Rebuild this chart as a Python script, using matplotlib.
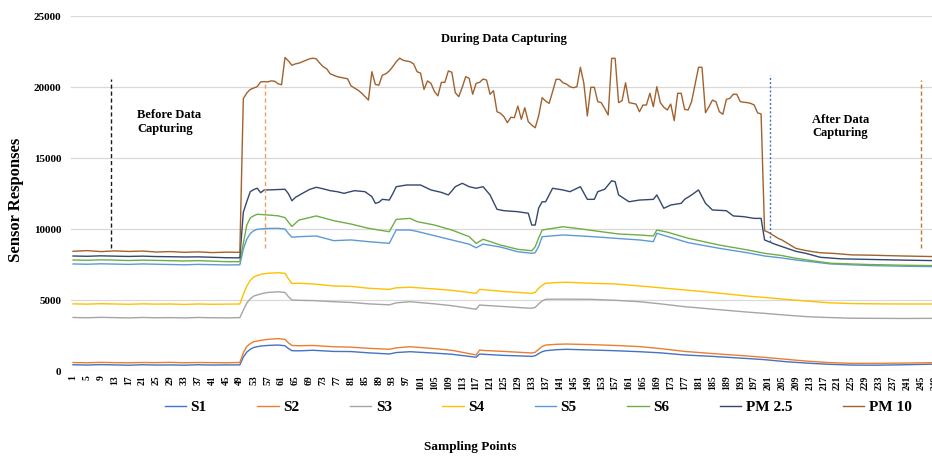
import matplotlib
matplotlib.use('Agg')
import matplotlib.pyplot as plt

plt.rcParams['font.family'] = ['Liberation Serif', 'DejaVu Serif']
plt.rcParams['font.weight'] = 'bold'

# ---------------- data ----------------
series_names = ['S1', 'S2', 'S3', 'S4', 'S5', 'S6', 'PM 2.5', 'PM 10']
colors = ['#4472C4', '#ED7D31', '#A5A5A5', '#FFC000', '#5B9BD5', '#70AD47', '#34476E', '#A0622F']

n_points = 250
tick_labels = list(range(1, n_points + 1, 4))

before_x = list(range(1, 50, 4))  # sampling points 1,5,...,49

grid_a = [50, 51, 52, 53, 55, 57, 60, 62, 63, 64, 66, 70, 76, 81, 86, 92, 94, 98, 105, 110,
          117, 118, 119, 125, 130, 133, 134, 135, 136, 137, 140, 143, 150, 157, 164, 170, 177,
          185, 195, 200, 206, 212, 218, 225, 232, 240, 250]
grid_b = [50, 51, 52, 53, 54, 57, 60, 62, 63, 64, 66, 71, 76, 81, 86, 92, 94, 98, 100, 105,
          110, 115, 117, 119, 124, 129, 133, 134, 135, 136, 142, 148, 153, 158, 164, 168, 169,
          172, 178, 187, 195, 200, 205, 209, 214, 219, 230, 240, 250]

s1_x = before_x + grid_a
s1_y = [460, 440, 470, 450, 430, 460, 440, 450, 430, 460, 440, 450, 450,
        1000, 1350, 1550, 1680, 1780, 1820, 1850, 1800, 1600, 1450,
        1440, 1480, 1400, 1390, 1300, 1220, 1320, 1380, 1280, 1200,
        990, 1220, 1200, 1120, 1080, 1050, 1100, 1250, 1380, 1450,
        1520, 1550, 1500, 1450, 1380, 1300, 1150, 1050, 900, 820,
        680, 580, 500, 440, 430, 460, 510]

s2_x = before_x + grid_a
s2_y = [620, 600, 630, 610, 600, 620, 610, 630, 600, 620, 610, 600, 620,
        1300, 1750, 1950, 2080, 2180, 2250, 2300, 2250, 2000, 1820,
        1800, 1820, 1730, 1700, 1620, 1550, 1650, 1730, 1600, 1480,
        1150, 1500, 1470, 1400, 1330, 1290, 1340, 1550, 1750, 1850,
        1900, 1920, 1880, 1820, 1740, 1600, 1400, 1250, 1080, 980,
        850, 720, 620, 560, 560, 580, 610]

s3_x = before_x + grid_a
s3_y = [3790, 3770, 3800, 3780, 3760, 3790, 3770, 3780, 3760, 3790, 3770, 3760, 3780,
        4300, 4800, 5100, 5300, 5450, 5550, 5600, 5550, 5250, 5020,
        5000, 4980, 4900, 4850, 4750, 4680, 4820, 4900, 4750, 4620,
        4370, 4670, 4650, 4560, 4480, 4440, 4500, 4750, 4950, 5070,
        5080, 5080, 5070, 5000, 4900, 4750, 4550, 4380, 4170, 4080,
        3960, 3850, 3790, 3740, 3730, 3720, 3730]

s4_x = before_x + grid_a
s4_y = [4750, 4730, 4760, 4740, 4720, 4750, 4730, 4740, 4710, 4740, 4720, 4730, 4740,
        5400, 6000, 6400, 6650, 6830, 6900, 6940, 6900, 6500, 6180,
        6200, 6150, 6010, 5980, 5850, 5770, 5880, 5920, 5800, 5700,
        5490, 5770, 5750, 5620, 5540, 5490, 5560, 5850, 6050, 6200,
        6250, 6270, 6200, 6150, 6010, 5880, 5730, 5550, 5300, 5200,
        5070, 4950, 4830, 4770, 4750, 4740, 4740]

s5_x = before_x + grid_b
s5_y = [7560, 7540, 7570, 7550, 7530, 7560, 7540, 7520, 7500, 7530, 7510, 7490, 7500,
        8600, 9300, 9700, 9900, 10000, 10060, 10070, 10020, 9700, 9440,
        9480, 9530, 9200, 9250, 9130, 9010, 9950, 9950, 9850, 9550,
        9250, 8950, 8700, 8960, 8750, 8420, 8310, 8350, 8800, 9480,
        9600, 9520, 9440, 9350, 9250, 9130, 9720, 9500, 9060, 8660,
        8350, 8120, 7980, 7840, 7700, 7560, 7450, 7400, 7370]

s6_x = before_x + grid_b
s6_y = [7840, 7820, 7850, 7830, 7800, 7830, 7810, 7790, 7770, 7790, 7760, 7720, 7720,
        9000, 10300, 10800, 10950, 11060, 11010, 10950, 10820, 10500, 10200,
        10650, 10940, 10610, 10370, 10070, 9830, 10700, 10770, 10540, 10300,
        9950, 9480, 9010, 9300, 8890, 8590, 8490, 8770, 9400, 9950,
        10180, 10000, 9830, 9670, 9600, 9530, 9950, 9800, 9370, 8890,
        8550, 8310, 8150, 7960, 7780, 7610, 7520, 7470, 7440]

pm25_x = before_x + [50, 51, 52, 53, 54, 55, 56, 58, 60, 62, 63, 64, 65, 67, 69, 71, 73, 75, 77, 79,
                     80, 82, 85, 87, 88, 89, 90, 92, 93, 94, 97, 101, 104, 107, 109, 110, 111, 113,
                     115, 117, 119, 121, 123, 125, 129, 132, 133, 134, 135, 136, 137, 139, 142, 144,
                     147, 149, 151, 152, 154, 156, 157, 158, 161, 164, 168, 169, 171, 173, 176, 177,
                     179, 181, 183, 185, 189, 191, 194, 197, 199, 200, 203, 206, 209, 212, 216, 222,
                     230, 240, 250]
pm25_y = [8120, 8100, 8130, 8110, 8090, 8110, 8080, 8070, 8050, 8060, 8030, 8000, 7990,
          11200, 11950, 12650, 12800, 12890, 12580, 12770, 12780, 12800, 12820,
          12500, 12010, 12250, 12530, 12800, 12960, 12850, 12720, 12650, 12530,
          12600, 12720, 12650, 12300, 11830, 11900, 12110, 12060, 12500, 13000,
          13120, 13120, 12770, 12600, 12420, 12700, 13000, 13240, 13000, 12890,
          13000, 12420, 11410, 11310, 11240, 11130, 10300, 10300, 11500, 11940,
          11940, 12890, 12770, 12650, 13000, 12110, 12110, 12650, 12820, 13420,
          13350, 12420, 11940, 12060, 12110, 12420, 11480, 11710, 11830, 12110,
          12420, 12770, 11830, 11360, 11310, 10940, 10890, 10770, 10770, 9250,
          8950, 8700, 8450, 8300, 8030, 7920, 7880, 7830, 7790]

pm10_x = before_x + list(range(50, 211)) + [212, 214, 216, 220, 225, 230, 235, 240, 245, 250]
pm10_y = [8450, 8500, 8430, 8480, 8440, 8470, 8400, 8430, 8380, 8410, 8360, 8390, 8380,
          # 50-59
          19200, 19600, 19850, 19950, 20050, 20380, 20400, 20380, 20450, 20430,
          # 60-69
          20250, 20180, 22100, 21850, 21550, 21650, 21700, 21800, 21900, 22000,
          # 70-79
          22050, 22000, 21700, 21450, 21300, 20950, 20850, 20750, 20700, 20650,
          # 80-89
          20600, 20100, 19950, 19800, 19600, 19350, 19100, 21100, 20200, 20150,
          # 90-99
          20850, 20950, 21150, 21450, 21800, 22050, 21900, 21850, 21800, 21650,
          # 100-109
          21100, 21000, 19850, 20450, 20280, 19700, 19400, 20350, 20350, 21150,
          # 110-119
          21060, 19620, 19340, 20000, 20750, 20630, 19510, 20280, 20350, 20580,
          # 120-129
          20510, 19510, 19760, 18280, 18170, 17930, 17510, 17890, 17860, 18680,
          # 130-139
          17750, 18560, 17580, 17340, 17150, 18000, 19270, 19030, 18870, 19690,
          # 140-149
          20560, 20560, 20320, 20230, 20040, 19970, 20040, 21410, 20280, 17980,
          # 150-159
          20000, 20000, 18990, 18920, 18500, 18050, 22040, 22040, 18920, 19060,
          # 160-169
          20320, 18920, 18870, 18820, 18280, 18750, 18750, 19580, 18630, 20040,
          # 170-179
          18920, 18600, 18400, 18820, 17650, 19580, 19580, 18450, 18400, 18990,
          # 180-189
          20200, 21410, 21410, 18210, 18630, 19100, 18990, 18280, 18100, 19150,
          # 190-199
          19220, 19510, 19510, 18990, 18950, 18920, 18870, 18750, 18200, 18120,
          # 200-210
          9900, 9800, 9650, 9500, 9350, 9250, 9100, 8950, 8800, 8660, 8600,
          # tail
          8500, 8420, 8350, 8300, 8200, 8180, 8150, 8120, 8100, 8070]

# phase markers: (sampling position, lower value, upper value)
phase_markers = [(11.85, 8680, 20580), (56.25, 8680, 20350), (201.6, 9130, 20860), (245.0, 8680, 20500)]
phase_styles = [('#1a1a1a', (0, (3, 2))), ('#F0A060', (0, (3, 2))),
                ('#4472C4', (0, (1.5, 1.5))), ('#C0782E', (0, (3, 2)))]

# ---------------- figure ----------------
W, H = 932, 457
fig = plt.figure(figsize=(W / 100, H / 100), dpi=100)
left_px, bottom_px, top_px = 71.3, 371.3, 16.3
ax = fig.add_axes([left_px / W, (H - bottom_px) / H, n_points * 3.475 / W, (bottom_px - top_px) / H])

xs = [s1_x, s2_x, s3_x, s4_x, s5_x, s6_x, pm25_x, pm10_x]
ys = [s1_y, s2_y, s3_y, s4_y, s5_y, s6_y, pm25_y, pm10_y]
for name, c, x, y in zip(series_names, colors, xs, ys):
    ax.plot(x, y, color=c, lw=1.0, label=name, solid_joinstyle='round')

for (xp, y0, y1), (c, ls) in zip(phase_markers, phase_styles):
    ax.plot([xp, xp], [y0, y1], color=c, lw=1.0, linestyle=ls)

ax.set_xlim(0.5, n_points + 0.5)
ax.set_ylim(0, 25000)
ax.set_yticks(range(0, 25001, 5000))
ax.set_yticklabels([str(v) for v in range(0, 25001, 5000)], fontsize=8, fontweight='bold')
ax.set_xticks(tick_labels)
ax.set_xticklabels([str(v) for v in tick_labels], rotation=90, fontsize=7, fontweight='bold')
ax.tick_params(axis='both', length=0)
ax.tick_params(axis='y', pad=7)
ax.tick_params(axis='x', pad=3)
ax.grid(axis='y', color='#d9d9d9', lw=0.9)
ax.set_axisbelow(True)
for s in ax.spines.values():
    s.set_visible(False)

fig.text(16 / W, 1 - 200 / H, 'Sensor Responses', rotation=90, ha='center', va='center',
         fontsize=12, fontweight='bold')
fig.text(137 / W, 1 - 122 / H, 'Before Data\nCapturing', ha='left', va='center',
         fontsize=9, fontweight='bold', linespacing=1.15)
fig.text(503.5 / W, 1 - 39 / H, 'During Data Capturing', ha='center', va='center',
         fontsize=9, fontweight='bold')
fig.text(812 / W, 1 - 126.5 / H, 'After Data\nCapturing', ha='left', va='center',
         fontsize=9, fontweight='bold', linespacing=1.15)

handles, labels = ax.get_legend_handles_labels()
fig.legend(handles, labels, loc='center', bbox_to_anchor=(538 / W, 1 - 407 / H), ncol=8,
           frameon=False, fontsize=11, handlelength=1.4, handletextpad=0.3, columnspacing=3.3)
fig.text(470 / W, 1 - 447 / H, 'Sampling Points', ha='center', va='center',
         fontsize=9.5, fontweight='bold')

fig.savefig('out.png', dpi=100)
